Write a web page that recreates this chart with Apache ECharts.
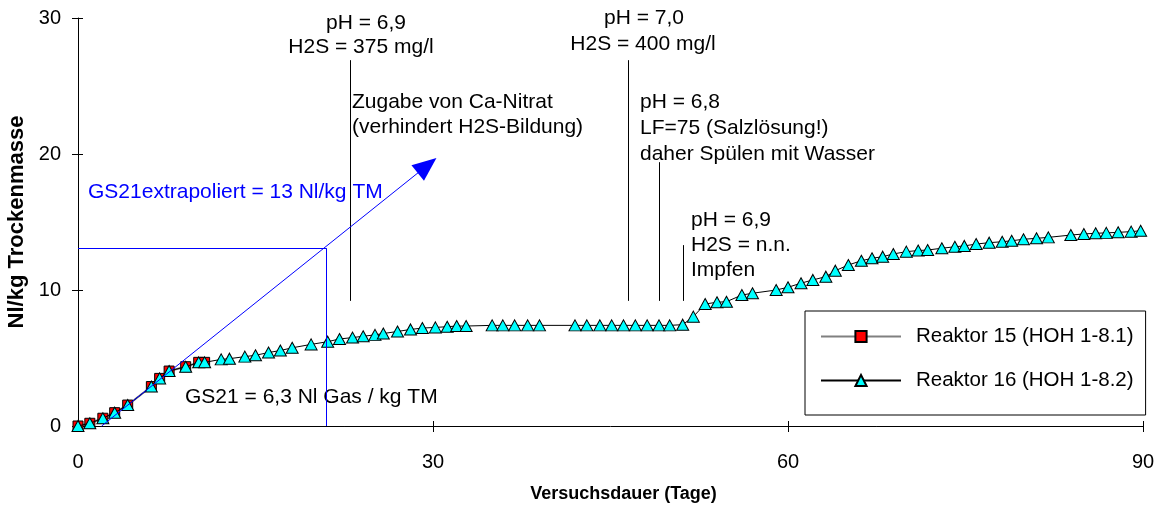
<!DOCTYPE html>
<html><head><meta charset="utf-8">
<script src="https://cdn.jsdelivr.net/npm/echarts@6/dist/echarts.min.js"></script>
<style>html,body{margin:0;padding:0;background:#fff}#c{width:1160px;height:511px}</style>
</head><body><div id="c"></div>
<script>
// ---- data ----
const seriesNames = ['Reaktor 15 (HOH 1-8.1)', 'Reaktor 16 (HOH 1-8.2)'];
const days15 = [0, 1, 2.1, 3.1, 4.2, 6.2, 6.9, 7.7, 9.1, 10.2, 10.7];
const nl15   = [0, 0.2, 0.57, 0.98, 1.54, 2.9, 3.5, 4.04, 4.36, 4.68, 4.68];
const days16 = [0, 1, 2.1, 3.1, 4.2, 6.2, 6.9, 7.7, 9.1, 10.2, 10.7, 12.1, 12.8, 14.1, 15.0, 16.1, 17.1, 18.1, 19.7, 21.1,
  22.1, 23.2, 24.1, 25.1, 25.8, 27.0, 28.1, 29.1, 30.2, 31.2, 32.0, 32.8, 35.0, 35.9, 36.9, 38.0, 39.0, 42.0, 43.0, 44.1,
  45.1, 46.1, 47.1, 48.1, 49.1, 50.0, 51.1, 52.0, 53.0, 54.0, 54.8, 56.1, 57.0, 59.0, 60.0, 61.1, 62.1, 63.2, 64.0, 65.1,
  66.2, 67.1, 68.0, 68.9, 70.0, 71.0, 71.8, 73.0, 74.1, 74.9, 75.9, 77.0, 78.1, 78.9, 79.9, 81.0, 82.0, 83.9, 85.0, 86.0,
  86.9, 87.9, 89.0, 89.8];
const nl16   = [0, 0.2, 0.57, 0.98, 1.54, 2.9, 3.5, 4.04, 4.36, 4.68, 4.68, 4.9, 4.95, 5.1, 5.2, 5.4, 5.55, 5.75, 6.0, 6.2,
  6.4, 6.5, 6.6, 6.7, 6.8, 6.95, 7.1, 7.2, 7.25, 7.3, 7.35, 7.35, 7.4, 7.4, 7.4, 7.4, 7.4, 7.4, 7.4, 7.4,
  7.4, 7.4, 7.4, 7.4, 7.4, 7.4, 7.45, 8.04, 8.97, 9.1, 9.14, 9.63, 9.76, 10.0, 10.2, 10.5, 10.74, 10.98, 11.42, 11.84,
  12.15, 12.33, 12.45, 12.65, 12.82, 12.9, 12.94, 13.07, 13.18, 13.24, 13.38, 13.48, 13.55, 13.62, 13.73, 13.8, 13.87, 14.04, 14.12, 14.17,
  14.2, 14.24, 14.29, 14.36];
const xTicks = [0, 30, 60, 90];
const yTicks = [0, 10, 20, 30];
// annotation guide lines (data coordinates)
const noteLineDays   = [23, 46.5, 49.1, 51.15];
const noteLineTops   = [26.9, 26.9, 19.4, 13.3];
const noteLineBottom = 9.2;
const gs21Day = 21;
const gs21Extrapolated = 13.07;
const arrowFrom = [2, 0];
const arrowTo = [29.5, 19.15];
// annotation texts
const noteA = ['pH = 6,9', 'H2S = 375 mg/l'];
const noteB = ['Zugabe von Ca-Nitrat', '(verhindert H2S-Bildung)'];
const noteC = ['pH = 7,0', 'H2S = 400 mg/l'];
const noteD = ['pH = 6,8', 'LF=75 (Salzlösung!)', 'daher Spülen mit Wasser'];
const noteE = ['pH = 6,9', 'H2S = n.n.', 'Impfen'];
const noteExtrap = 'GS21extrapoliert = 13 Nl/kg TM';
const noteGS21 = 'GS21 = 6,3 Nl Gas / kg TM';

// ---- chart ----
const FONT = "'Liberation Sans', Arial, sans-serif";
const chart = echarts.init(document.getElementById('c'), null, {renderer: 'canvas'});
const xMin = xTicks[0], xMax = xTicks[xTicks.length - 1], xInt = xTicks[1] - xTicks[0];
const yMin = yTicks[0], yMax = yTicks[yTicks.length - 1], yInt = yTicks[1] - yTicks[0];

function txt(lines, x, y0, dy, align, color) {
  return lines.map((t, i) => ({
    type: 'text', x: x, y: y0 + i * dy, silent: true,
    style: {text: t, fill: color || '#000', font: '21px ' + FONT, align: align, verticalAlign: 'middle',
            textAlign: align, textVerticalAlign: 'middle'}
  }));
}

const option = {
  animation: false,
  backgroundColor: '#fff',
  textStyle: {fontFamily: FONT},
  grid: {left: 78, right: 17, top: 18, bottom: 85, containLabel: false, outerBoundsMode: 'none'},
  legend: {
    orient: 'vertical', left: 805, top: 311,
    itemWidth: 80, itemHeight: 14, itemGap: 23,
    padding: [15, 12, 24, 15],
    borderColor: '#000', borderWidth: 1,
    textStyle: {fontSize: 20.5, color: '#000', fontFamily: FONT, padding: [0, 0, 0, 10]},
    data: seriesNames
  },
  xAxis: [{
    type: 'value', min: xMin, max: xMax, interval: xInt, position: 'bottom',
    axisLine: {lineStyle: {color: '#000', width: 1}},
    axisTick: {length: 6, lineStyle: {color: '#000'}},
    axisLabel: {fontSize: 20, color: '#000', margin: 26, fontFamily: FONT},
    splitLine: {show: false},
    name: 'Versuchsdauer (Tage)', nameLocation: 'middle', nameGap: 59,
    nameTextStyle: {fontSize: 18, fontWeight: 'bold', color: '#000', fontFamily: FONT, padding: [0, 0, 0, 26]}
  }, {
    type: 'value', min: xMin, max: xMax, interval: xInt, position: 'bottom', offset: 0,
    axisLine: {show: false},
    axisTick: {inside: true, length: 5, lineStyle: {color: '#000'}},
    axisLabel: {show: false}, splitLine: {show: false}
  }],
  yAxis: [{
    type: 'value', min: yMin, max: yMax, interval: yInt, position: 'left',
    axisLine: {show: true, lineStyle: {color: '#000', width: 1}},
    axisTick: {show: true, length: 6, lineStyle: {color: '#000'}},
    axisLabel: {fontSize: 20, color: '#000', margin: 17, fontFamily: FONT},
    splitLine: {show: false},
    name: 'Nl/kg Trockenmasse', nameLocation: 'middle', nameGap: 46, nameRotate: 90,
    nameTextStyle: {fontSize: 22, fontWeight: 'bold', color: '#000', fontFamily: FONT}
  }, {
    type: 'value', min: yMin, max: yMax, interval: yInt, position: 'left', offset: 0,
    axisLine: {show: false},
    axisTick: {show: true, inside: true, length: 5, lineStyle: {color: '#000'}},
    axisLabel: {show: false}, splitLine: {show: false}
  }],
  series: [
    {
      name: 'guides', type: 'line', data: [], silent: true,
      markLine: {
        silent: true, animation: false, symbol: ['none', 'none'],
        label: {show: false},
        lineStyle: {color: '#000', width: 1, type: 'solid'},
        emphasis: {disabled: true},
        data: noteLineDays.map((d, i) => [{coord: [d, noteLineBottom]}, {coord: [d, noteLineTops[i]]}])
      }
    },
    {
      name: 'blue', type: 'line', data: [], silent: true,
      markLine: {
        silent: true, animation: false, symbol: ['none', 'none'],
        label: {show: false},
        lineStyle: {color: '#0000ff', width: 1, type: 'solid'},
        emphasis: {disabled: true},
        data: [
          [{coord: [xMin, gs21Extrapolated]}, {coord: [gs21Day, gs21Extrapolated]}],
          [{coord: [gs21Day, gs21Extrapolated]}, {coord: [gs21Day, yMin]}],
          [{coord: arrowFrom, symbol: 'none'}, {coord: arrowTo, symbol: 'triangle', symbolSize: [20, 24]}]
        ]
      }
    },
    {
      name: seriesNames[0], type: 'line', clip: false,
      data: days15.map((d, i) => [d, nl15[i]]),
      symbol: 'rect', symbolSize: 10, showAllSymbol: true,
      lineStyle: {color: '#808080', width: 2},
      itemStyle: {color: '#ff0000', borderColor: '#000', borderWidth: 1},
      z: 3
    },
    {
      name: seriesNames[1], type: 'line', clip: false,
      data: days16.map((d, i) => [d, nl16[i]]),
      symbol: 'triangle', symbolSize: [12, 11], showAllSymbol: true,
      lineStyle: {color: '#000', width: 1},
      itemStyle: {color: '#00ffff', borderColor: '#000', borderWidth: 1},
      z: 4
    }
  ],
  graphic: [].concat(
    txt([noteA[0]], 366, 23, 0, 'center'),
    txt([noteA[1]], 361, 47, 0, 'center'),
    txt(noteB, 352, 102, 25, 'left'),
    txt([noteC[0]], 644, 18, 0, 'center'),
    txt([noteC[1]], 643, 44, 0, 'center'),
    txt(noteD, 640, 102, 26, 'left'),
    txt(noteE, 691, 220, 25, 'left'),
    txt([noteExtrap], 88, 192, 0, 'left', '#0000ff'),
    txt([noteGS21], 185, 397, 0, 'left')
  )
};
chart.setOption(option);
</script>
</body></html>
